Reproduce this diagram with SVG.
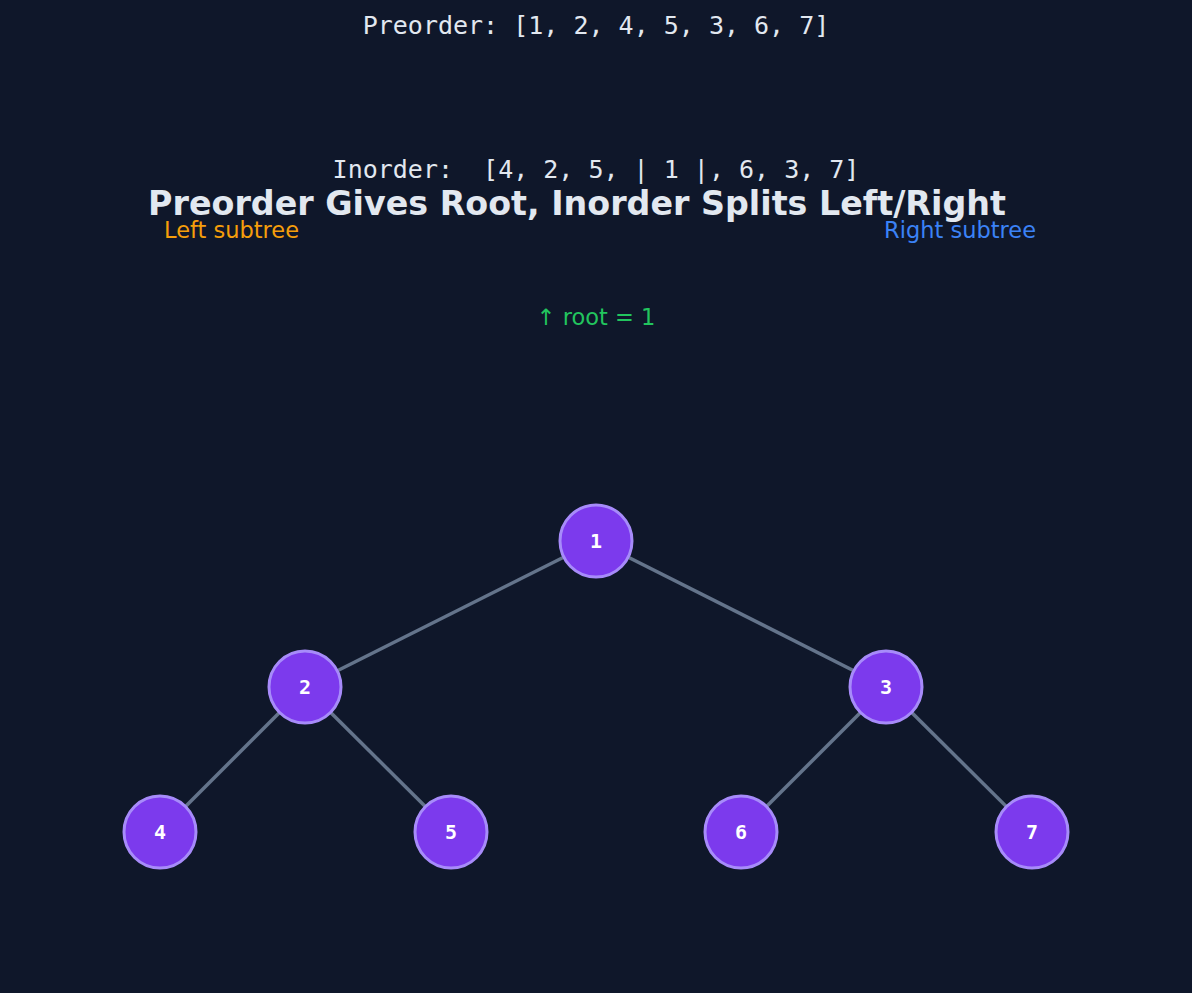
<svg xmlns="http://www.w3.org/2000/svg" width="1192" height="993" viewBox="0 0 1192 993">
<style>
.mono{font-family:"DejaVu Sans Mono",monospace;font-size:25px;fill:#e2e8f0;text-anchor:middle}
.sans{font-family:"DejaVu Sans",sans-serif}
.node circle{fill:#7c3aed;stroke:#a78bfa;stroke-width:3}
.node text{font-family:"DejaVu Sans Mono",monospace;font-weight:bold;font-size:20px;fill:#ffffff;text-anchor:middle;dominant-baseline:central}
#edges line{stroke:#64748b;stroke-width:3.5}
</style>
<rect width="1192" height="993" fill="#0f172a"/>
<text class="mono" x="596" y="34">Preorder: [1, 2, 4, 5, 3, 6, 7]</text>
<text class="mono" x="596" y="178" xml:space="preserve">Inorder:  [4, 2, 5, | 1 |, 6, 3, 7]</text>
<text class="sans" x="577" y="215" font-size="33.3" font-weight="bold" fill="#e2e8f0" text-anchor="middle">Preorder Gives Root, Inorder Splits Left/Right</text>
<text class="sans" x="164" y="238" font-size="22.5" fill="#f59e0b">Left subtree</text>
<text class="sans" x="1036" y="238" font-size="22.5" fill="#3b82f6" text-anchor="end">Right subtree</text>
<text class="sans" x="596" y="325" font-size="22.5" fill="#22c55e" text-anchor="middle">↑ root = 1</text>
<g id="edges">
<line x1="596" y1="541" x2="305" y2="687"/>
<line x1="596" y1="541" x2="886" y2="687"/>
<line x1="305" y1="687" x2="160" y2="832"/>
<line x1="305" y1="687" x2="451" y2="832"/>
<line x1="886" y1="687" x2="741" y2="832"/>
<line x1="886" y1="687" x2="1032" y2="832"/>
</g>
<g id="n1" class="node"><circle cx="596" cy="541" r="36"/><text x="596" y="541">1</text></g>
<g id="n2" class="node"><circle cx="305" cy="687" r="36"/><text x="305" y="687">2</text></g>
<g id="n3" class="node"><circle cx="886" cy="687" r="36"/><text x="886" y="687">3</text></g>
<g id="n4" class="node"><circle cx="160" cy="832" r="36"/><text x="160" y="832">4</text></g>
<g id="n5" class="node"><circle cx="451" cy="832" r="36"/><text x="451" y="832">5</text></g>
<g id="n6" class="node"><circle cx="741" cy="832" r="36"/><text x="741" y="832">6</text></g>
<g id="n7" class="node"><circle cx="1032" cy="832" r="36"/><text x="1032" y="832">7</text></g>
</svg>
